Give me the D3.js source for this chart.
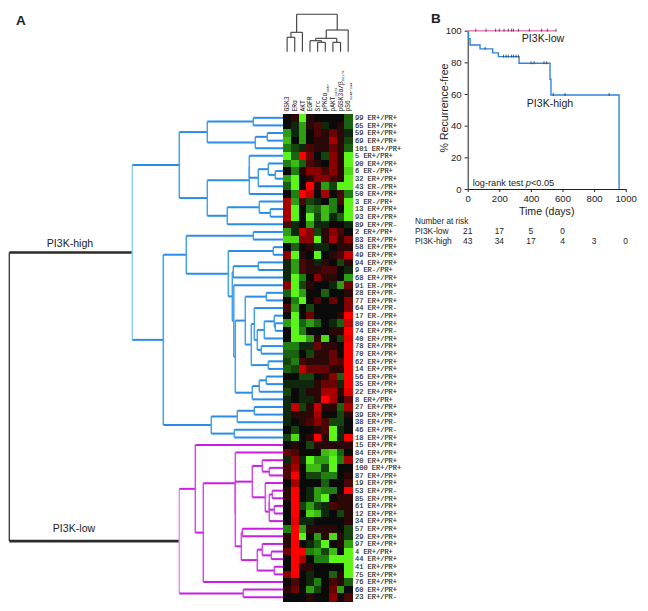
<!DOCTYPE html>
<html>
<head>
<meta charset="utf-8">
<script src="https://cdn.jsdelivr.net/npm/d3@7"></script>
<style>
  body { margin: 0; background: #fff; }
  svg { display: block; }
  text { font-family: "Liberation Sans", Arial, sans-serif; fill: #222; }
  .mono { font-family: "Liberation Mono", monospace; }
</style>
</head>
<body>
<svg id="chart" width="648" height="611"></svg>
<script>
const rowLabels = [
  "99 ER+/PR+", "65 ER+/PR+", "59 ER+/PR+", "69 ER+/PR+", "101 ER+/PR+", "5 ER+/PR+", "90 ER+/PR+", "6 ER-/PR+",
  "32 ER+/PR+", "43 ER-/PR+", "50 ER+/PR+", "3 ER-/PR+", "13 ER+/PR+", "93 ER+/PR+", "89 ER+/PR-", "2 ER+/PR+",
  "83 ER+/PR+", "58 ER+/PR+", "49 ER+/PR+", "94 ER+/PR+", "9 ER-/PR+", "68 ER+/PR+", "91 ER-/PR+", "28 ER+/PR-",
  "77 ER+/PR+", "64 ER+/PR-", "17 ER-/PR+", "80 ER+/PR+", "74 ER+/PR-", "40 ER+/PR+", "78 ER+/PR+", "70 ER+/PR+",
  "62 ER+/PR+", "14 ER+/PR+", "56 ER+/PR+", "35 ER+/PR+", "22 ER+/PR+", "8 ER+/PR+", "27 ER+/PR+", "39 ER+/PR+",
  "38 ER+/PR-", "46 ER+/PR-", "18 ER+/PR+", "15 ER+/PR+", "84 ER+/PR+", "20 ER+/PR+", "100 ER+/PR+", "87 ER+/PR+",
  "19 ER+/PR+", "53 ER+/PR-", "85 ER+/PR+", "61 ER+/PR+", "12 ER+/PR+", "34 ER+/PR+", "57 ER+/PR+", "29 ER+/PR+",
  "97 ER+/PR+", "4 ER+/PR+", "44 ER+/PR+", "41 ER+/PR+", "75 ER+/PR+", "76 ER+/PR+", "60 ER+/PR+", "23 ER+/PR-",
];

const columnNames = [
  ["GSK3", ""], ["ERα", ""], ["AKT", ""], ["EGFR", ""], ["Src", ""],
  ["pPKCα", "S657"], ["pAKT", "S473"], ["pGSK3α/β", "S21/9"], ["pS6", "S240/244"],
];

// negative = green, positive = red
const heatValues = [
  [0, 1, -8, 1, 0, 0, 0, 0, -3],
  [0, -1, -5, 1, 2, -1, 0, 1, -3],
  [-5, -1, -5, 0, 2, 1, 3, 1, -1],
  [-6, 0, -5, 0, 1, 1, 5, 1, -2],
  [-4, -2, -1, 2, 1, 1, 3, 1, -3],
  [-8, -3, 9, 3, 0, -2, 4, 1, -8],
  [-4, -6, -3, 2, 1, 0, 4, 1, -8],
  [0, -4, 1, 4, 4, 2, 4, 1, -7],
  [-5, -8, 0, 1, 4, 4, 2, 1, -8],
  [-3, -8, 0, 9, 1, -5, -2, -8, -8],
  [0, -4, 8, 6, 0, 5, 0, 2, -4],
  [5, -5, 2, -2, -1, 0, -4, 2, -8],
  [5, -8, 0, -4, -3, -6, -4, 0, -8],
  [5, -8, 0, -9, -2, -6, -1, -3, -8],
  [2, -1, 0, -5, -1, -1, 0, 0, -1],
  [-5, -1, 6, 4, -2, 1, 4, 2, 0],
  [-7, -7, 4, 4, -8, 1, 5, 1, 4],
  [0, -3, 0, 1, -1, -1, 0, 1, 1],
  [4, -9, 1, 0, -9, 0, 1, 2, 6],
  [-1, -5, 2, 1, -1, 1, 0, -2, 1],
  [-1, -5, 2, 1, 1, 2, 2, 0, -1],
  [-1, -8, -4, 0, 4, 1, 1, 0, -5],
  [4, -8, -2, 1, 0, 0, -1, -5, 3],
  [-3, -8, -5, 0, 0, -3, 0, 0, 1],
  [0, -4, -8, 0, 2, 0, 3, 0, 4],
  [2, -5, 0, -2, 0, 0, 0, 0, 4],
  [0, -8, 0, 3, 0, 0, 0, 1, 9],
  [-5, -8, -3, -5, -3, 0, -1, -3, 6],
  [0, -8, -4, 0, 0, 0, 1, 1, 9],
  [0, -8, -8, -5, 1, -7, 0, -2, 7],
  [-4, -4, -1, -1, 3, 1, 1, 0, 9],
  [-3, -3, 0, -2, 1, 1, 3, 0, 9],
  [-2, -4, 2, 1, 1, 1, 3, 2, 8],
  [-3, -2, 6, 3, 3, 3, 1, 1, 8],
  [0, 0, -2, -2, 0, 1, 4, -3, 9],
  [-1, -1, -1, -1, 1, 3, 3, -1, 9],
  [-2, 0, -1, 1, 1, 5, 5, 1, 7],
  [-1, 0, -1, -1, 1, 8, 5, 0, 3],
  [-1, 6, -2, 1, 6, 1, 1, -3, 5],
  [-1, 1, 1, 1, 5, 0, 0, -2, 1],
  [-1, 0, 1, 2, 4, 2, -2, -2, 0],
  [0, -2, 0, 0, 1, 2, -8, -1, 0],
  [-2, -7, 0, 1, 8, 1, -8, -1, 8],
  [0, 1, 0, -2, 1, 1, 1, 1, 1],
  [3, 2, 0, 0, 0, -6, -7, -3, 0],
  [-1, 4, -1, -8, -5, -5, -8, -4, 5],
  [2, 5, 0, -6, -6, -2, -8, 0, 0],
  [2, 9, 0, -2, -2, -4, -4, 0, 1],
  [0, 5, 0, 0, 0, -3, 0, 0, 2],
  [1, 9, 0, -1, -5, -4, -4, 0, 9],
  [1, 9, 0, -1, -5, -8, 0, 1, 1],
  [0, 9, -2, -5, -2, -1, 2, 1, 1],
  [0, 9, 0, -7, -6, -1, 0, -2, 1],
  [0, 7, -1, -1, 0, 0, 0, 0, 1],
  [-4, 9, -5, 1, 1, 1, 1, 0, -2],
  [1, 9, -8, 0, -5, 1, -7, 1, -2],
  [1, 9, 0, -1, -3, -8, 0, 1, -5],
  [3, 9, 9, -4, -5, -2, -6, 0, -8],
  [0, 9, 5, 0, -4, -4, -8, -8, -8],
  [0, 9, 1, 1, 0, 0, 0, 0, -8],
  [4, 9, 0, -1, 0, 0, -3, 1, -8],
  [0, 2, 0, -1, -4, 0, 2, 1, -3],
  [1, 3, 0, -5, -2, 0, 3, -5, 0],
  [0, 0, 0, 1, 0, 0, 4, 0, 2],
];

// dendrograms: [merge height, ...children], a plain number is a leaf index
const clusterA = [104,
  [76, [30, 0, 1], [28, [16, 2, 3], 4]],
  [76,
    [34, [34, 5, [25, [15, 6, [8, 7, 8]], 9]], 10],
    [56, [24, 11, [13, 12, 13]], 14]],
];
const clusterG = [38, [17, 23, 24],
  [32, [29, 25, [26, [19, [9, 26, [8, 27, 28]], 29], [22, 30, 31]]], [15, 32, 33]],
];
const clusterH = [31, [24, [17, 34, 35], 36], 37];
const clusterB = [97, [30, 15, 16],
  [55, [10, 17, 18],
    [51, [50, [25, 19, 20], 21], [49.5, 22, [48, clusterG, clusterH]]]],
];
const clusterI = [72, [46, [29, 38, 39], 40], [49, 41, 42]];
const highTree = [151, clusterA, [120, clusterB, clusterI]];

const clusterO = [31, [21, 45, [14, 46, 47]],
  [18, 48, [14, [14, [11, 49, 50], [9, 51, 52]], 53]],
];
const clusterP = [42, [41, 54, 55], [26, [21, 56, [12, 57, 58]], [9, 59, 60]]];
const lowTree = [104,
  [88, 43, [80, [48, 44, [48, clusterO, clusterP]], 61]],
  [40, 62, 63],
];
const rowTree = [274, highTree, lowTree];
const columnTree = [37.4, [19.4, [14.4, 0, 1], 2], [21.7, [13.4, [11, 3, [9.4, 4, 5]], [9.4, 6, 7]], 8]];

// survival curves
const lowDays = [0, 560];
const lowPct = [100, 100];
const lowCensored = [51, 116, 177, 200, 230, 257, 278, 289, 321, 390, 468, 504, 559];
const highDays = [0, 5, 15, 78, 158, 194, 325, 521, 527, 958, 958];
const highPct = [100, 95, 91, 88.5, 86, 83.6, 79.4, 69.3, 59.4, 59.4, 0];
const highCensored = [110, 226, 243, 257, 278, 289, 306, 321, 401, 420, 483, 500, 542, 616, 895];

const riskDays = [0, 200, 400, 600, 800, 1000];
const riskLow = [21, 17, 5, 0];
const riskHigh = [43, 34, 17, 4, 3, 0];

const svg = d3.select("#chart");

const heat = { left: 283.3, right: 352, top: 114, bottom: 601 };
const xColumn = d3.scaleBand().domain(d3.range(columnNames.length)).range([heat.left, heat.right]);
const yRow = d3.scaleBand().domain(d3.range(rowLabels.length)).range([heat.top, heat.bottom]);
const color = d3.scaleLinear()
  .domain([-8, -4, 0, 4, 8])
  .range(["#5cf51a", "#1f7f10", "#0a0a0a", "#8a0000", "#ff0000"])
  .clamp(true);

function drawHeatmap() {
  const cells = heatValues.flatMap((row, r) => row.map((v, c) => ({ r, c, v })));
  svg.append("g")
    .attr("shape-rendering", "crispEdges")
    .selectAll("rect")
    .data(cells)
    .join("rect")
    .attr("x", (d) => xColumn(d.c))
    .attr("y", (d) => yRow(d.r))
    .attr("width", xColumn.bandwidth() + 0.5)
    .attr("height", yRow.bandwidth() + 0.5)
    .attr("fill", (d) => color(d.v));

  svg.append("g")
    .selectAll("text")
    .data(rowLabels)
    .join("text")
    .attr("class", "mono")
    .attr("x", heat.right + 3)
    .attr("y", (_, i) => yRow(i) + yRow.bandwidth() / 2 + 2.3)
    .attr("font-size", 7)
    .attr("stroke", "#222")
    .attr("stroke-width", 0.15)
    .text((d) => d);

  const labels = svg.append("g")
    .selectAll("text")
    .data(columnNames)
    .join("text")
    .attr("class", "mono")
    .attr("font-size", 6.3)
    .attr("transform", (_, i) => `translate(${xColumn(i) + xColumn.bandwidth() / 2 + 2.2},111.5) rotate(-90)`);
  labels.append("tspan").text((d) => d[0]);
  labels.append("tspan")
    .attr("font-size", 3.6)
    .attr("dy", 1.4)
    .text((d) => d[1]);
}

function layoutTree(tree, leafPos) {
  const root = d3.hierarchy(tree, (d) => (Array.isArray(d) ? d.slice(1) : null));
  root.eachAfter((n) => {
    if (n.children) {
      n.h = n.data[0];
      n.pos = (n.children[0].pos + n.children[n.children.length - 1].pos) / 2;
    } else {
      n.h = 0;
      n.pos = leafPos(n.data);
    }
  });
  return root;
}

function drawRowTree() {
  const xHeight = d3.scaleLinear().domain([0, 274]).range([heat.left, 9.3]);
  const root = layoutTree(rowTree, (i) => yRow(i) + yRow.bandwidth() / 2);
  const g = svg.append("g").attr("fill", "none");
  const clusterStyle = (n) => {
    if (n.depth === 0) return { main: "#2b2b2b", side: "#333" };
    const high = n.ancestors().includes(root.children[0]);
    return high
      ? { main: "#2a8ce8", side: n.depth === 1 ? "#8fd0fb" : "#45a0ee" }
      : { main: "#c81fe0", side: n.depth === 1 ? "#e690f7" : "#d34cea" };
  };

  root.descendants().forEach((n) => {
    const style = clusterStyle(n);
    if (n.parent) {
      g.append("line")
        .attr("x1", xHeight(n.parent.h))
        .attr("x2", xHeight(n.h))
        .attr("y1", n.pos)
        .attr("y2", n.pos)
        .attr("stroke", n.depth === 1 ? "#2b2b2b" : style.main)
        .attr("stroke-width", n.depth === 1 ? 2.6 : 2);
    }
    if (n.children) {
      g.append("line")
        .attr("x1", xHeight(n.h))
        .attr("x2", xHeight(n.h))
        .attr("y1", n.children[0].pos)
        .attr("y2", n.children[n.children.length - 1].pos)
        .attr("stroke", style.side)
        .attr("stroke-width", n.depth === 0 ? 1.3 : 1.5);
    }
  });
}

function drawColumnTree() {
  const yHeight = d3.scaleLinear().domain([0, 37.4]).range([51.7, 14.3]);
  const root = layoutTree(columnTree, (i) => xColumn(i) + xColumn.bandwidth() / 2);
  const g = svg.append("g").attr("stroke", "#3a3a3a").attr("stroke-width", 1.1);

  root.descendants().forEach((n) => {
    if (n.parent) {
      g.append("line")
        .attr("x1", n.pos)
        .attr("x2", n.pos)
        .attr("y1", yHeight(n.parent.h))
        .attr("y2", yHeight(n.h));
    }
    if (n.children) {
      g.append("line")
        .attr("x1", n.children[0].pos)
        .attr("x2", n.children[n.children.length - 1].pos)
        .attr("y1", yHeight(n.h))
        .attr("y2", yHeight(n.h));
    }
  });
}

function appendText(x, y, str, size, anchor = "start", weight = 400) {
  return svg.append("text")
    .attr("x", x)
    .attr("y", y)
    .attr("font-size", size)
    .attr("text-anchor", anchor)
    .attr("font-weight", weight)
    .text(str);
}

function drawSurvival() {
  const x = d3.scaleLinear().domain([0, 1000]).range([467.7, 625.7]);
  const y = d3.scaleLinear().domain([0, 100]).range([189, 30.7]);

  const xAxis = svg.append("g")
    .attr("transform", `translate(0,${y(0)})`)
    .call(d3.axisBottom(x).tickValues(riskDays).tickFormat(d3.format("d")).tickSize(3).tickSizeOuter(0));
  const yAxis = svg.append("g")
    .attr("transform", `translate(${x(0)},0)`)
    .call(d3.axisLeft(y).tickValues([0, 20, 40, 60, 80, 100]).tickSize(3).tickSizeOuter(0));
  [xAxis, yAxis].forEach((a) => {
    a.selectAll("text")
      .attr("font-size", 9.6)
      .attr("font-family", '"Liberation Sans", Arial, sans-serif')
      .attr("fill", "#222");
    a.selectAll("path,line").attr("stroke", "#222");
  });

  const step = d3.line()
    .curve(d3.curveStepAfter)
    .x((d) => x(d[0]))
    .y((d) => y(d[1]));

  const pctAt = (days, pct, t) => pct[d3.bisectRight(days, t) - 1];
  const censorMarks = (list, days, pct) => {
    svg.append("g")
      .selectAll("line")
      .data(list)
      .join("line")
      .attr("x1", (d) => x(d))
      .attr("x2", (d) => x(d))
      .attr("y1", (d) => y(pctAt(days, pct, d)) - 2)
      .attr("y2", (d) => y(pctAt(days, pct, d)) + 1)
      .attr("stroke", "#333")
      .attr("stroke-width", 0.8);
  };

  svg.append("path")
    .attr("d", step(d3.zip(highDays, highPct)))
    .attr("fill", "none")
    .attr("stroke", "#2f84dc")
    .attr("stroke-width", 1.4);
  svg.append("path")
    .attr("d", step(d3.zip(lowDays, lowPct)))
    .attr("fill", "none")
    .attr("stroke", "#e884bc")
    .attr("stroke-width", 1.5);
  censorMarks(highCensored, highDays, highPct);
  censorMarks(lowCensored, lowDays, lowPct);

  appendText(543, 41.5, "PI3K-low", 10.6, "middle");
  appendText(550, 106.5, "PI3K-high", 10.6, "middle");

  const logRank = appendText(472.7, 185.5, "log-rank test ", 9.2);
  logRank.append("tspan").attr("font-style", "italic").text("p");
  logRank.append("tspan").text("<0.05");

  appendText(546.7, 214.5, "Time (days)", 10.6, "middle");
  svg.append("text")
    .attr("transform", "translate(448,108) rotate(-90)")
    .attr("font-size", 10.6)
    .attr("text-anchor", "middle")
    .text("% Recurrence-free");

  appendText(415, 223.5, "Number at risk", 8.2);
  appendText(415, 234, "PI3K-low", 8.4);
  appendText(415, 243.8, "PI3K-high", 8.4);
  riskLow.forEach((v, i) => appendText(x(riskDays[i]), 234, v, 8.4, "middle"));
  riskHigh.forEach((v, i) => appendText(x(riskDays[i]), 243.8, v, 8.4, "middle"));
}

drawRowTree();
drawColumnTree();
drawHeatmap();
drawSurvival();

appendText(16, 25, "A", 13.5, "start", 700);
appendText(431, 23, "B", 13.5, "start", 700);
appendText(70, 246.5, "PI3K-high", 10.6, "middle");
appendText(74, 531.5, "PI3K-low", 10.6, "middle");
</script>
</body>
</html>
